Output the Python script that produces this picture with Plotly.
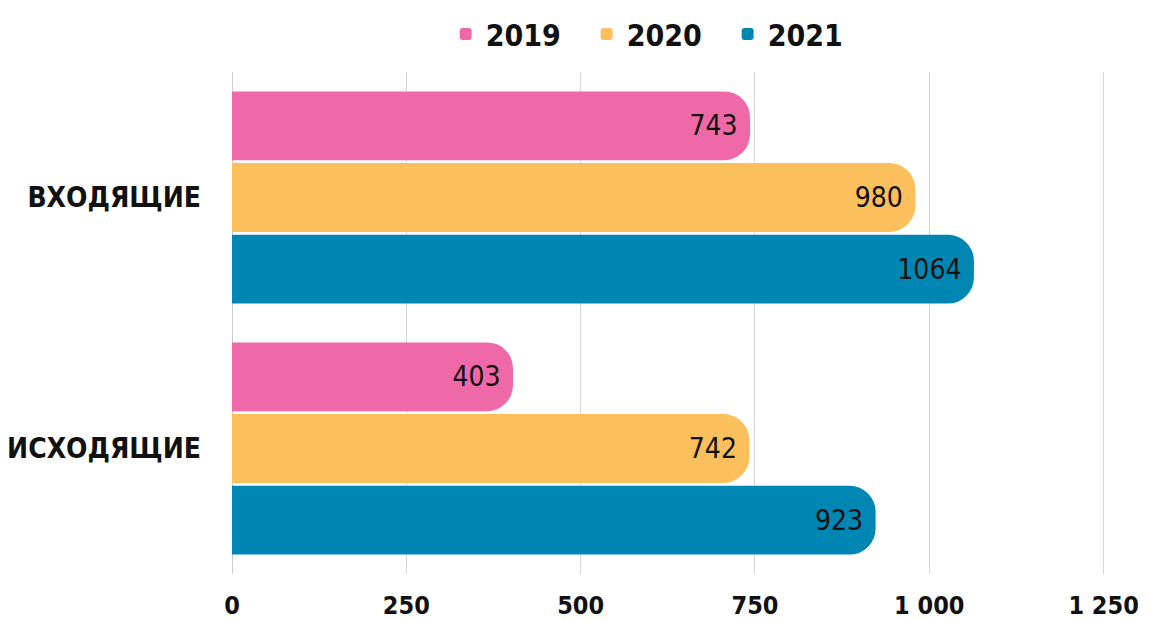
import plotly.graph_objects as go

categories = ["ВХОДЯЩИЕ", "ИСХОДЯЩИЕ"]
years = ["2019", "2020", "2021"]
values_2019 = [743, 403]
values_2020 = [980, 742]
values_2021 = [1064, 923]
colors = ["#EF68A8", "#FBBF5B", "#0086B3"]
x_ticks = [0, 250, 500, 750, 1000, 1250]

FONT = "DejaVu Sans Condensed, DejaVu Sans, sans-serif"

fig = go.Figure()
for name, vals, col in zip(years, [values_2019, values_2020, values_2021], colors):
    fig.add_trace(go.Bar(
        y=categories, x=vals, name=name, orientation="h",
        marker=dict(color=col, line=dict(width=0)),
        text=[str(v) + "\u00a0" for v in vals], textposition="inside",
        insidetextanchor="end", constraintext="none",
        textfont=dict(family=FONT, size=28, color="#111111"),
    ))

fig.update_layout(
    width=1149, height=620,
    margin=dict(l=232, r=44, t=72, b=46),
    paper_bgcolor="white", plot_bgcolor="white",
    barmode="group", bargap=0.143, bargroupgap=0.04,
    barcornerradius=26,
    separators=", ",
    showlegend=True,
    legend=dict(orientation="h", x=0.487, xanchor="center",
                yref="container", y=0.945, yanchor="middle",
                font=dict(family=FONT, size=30, color="#111111", weight="bold"),
                itemwidth=30, entrywidth=96),
    xaxis=dict(range=[0, 1252], tickvals=x_ticks, tickformat=",d",
               showgrid=True, gridcolor="#d6d6d6", gridwidth=1,
               zeroline=True, zerolinecolor="#cccccc", zerolinewidth=1,
               tickfont=dict(family=FONT, size=25, color="#111111", weight="bold"),
               ticklabelstandoff=14, automargin=False, fixedrange=True),
    yaxis=dict(autorange="reversed", showgrid=False, zeroline=False,
               tickfont=dict(family=FONT, size=28, color="#111111", weight="bold"),
               ticklabelstandoff=30, automargin=False, fixedrange=True),
)

fig.write_html("out.html")
